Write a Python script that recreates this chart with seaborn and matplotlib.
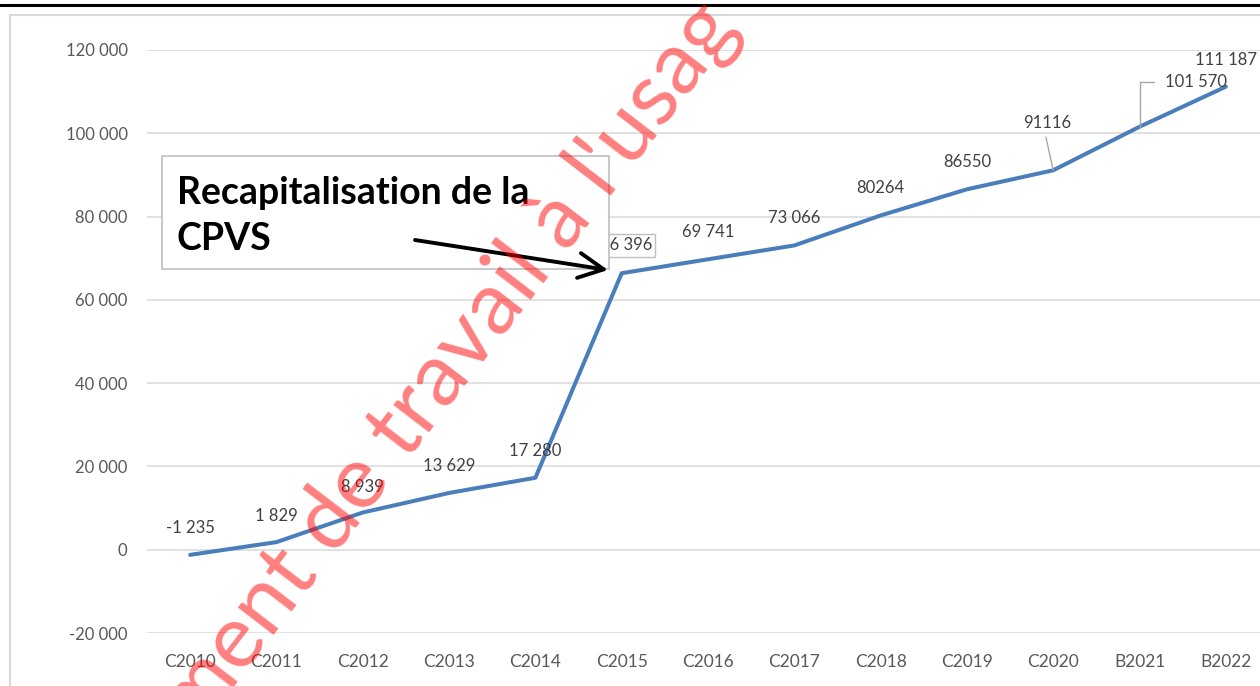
import numpy as np
import pandas as pd
import matplotlib
matplotlib.use('Agg')
import matplotlib.pyplot as plt
import matplotlib.patches as mpatches
import matplotlib.lines as mlines
import seaborn as sns

# ==========================================
# data
# ==========================================
categories = ['C2010', 'C2011', 'C2012', 'C2013', 'C2014', 'C2015', 'C2016',
              'C2017', 'C2018', 'C2019', 'C2020', 'B2021', 'B2022']
values = [-1235, 1829, 8939, 13629, 17280, 66396, 69741,
          73066, 80264, 86550, 91116, 101570, 111187]
value_labels = ['-1 235', '1 829', '8 939', '13 629', '17 280', '66 396', '69 741',
                '73 066', '80264', '86550', '91116', '101 570', '111 187']
y_ticks = [-20000, 0, 20000, 40000, 60000, 80000, 100000, 120000]
note_text = 'Recapitalisation de la\nCPVS'
watermark = "ment de travail à l'usag"

W, H = 1260, 686
LINE_COLOR = '#4A7EBB'
GRID_COLOR = '#D9D9D9'
TICK_COLOR = '#595959'
LABEL_COLOR = '#404040'

sns.set_style('white')
plt.rcParams['font.family'] = ['Lato', 'DejaVu Sans']

df = pd.DataFrame({'cat': categories, 'val': values})

fig = plt.figure(figsize=(W / 100, H / 100), dpi=100)


def px(x, y):
    # pixel -> figure fraction
    return x / W, 1 - y / H


ax = fig.add_axes([147 / W, 1 - 633 / H, (1269 - 147) / W, (633 - 50) / H])
sns.lineplot(data=df, x='cat', y='val', sort=False, color=LINE_COLOR,
             linewidth=2.9, ax=ax, zorder=3)

ax.set_xlim(-0.5, len(categories) - 0.5)
ax.set_ylim(y_ticks[0], y_ticks[-1])
ax.set_yticks(y_ticks)
ax.set_yticklabels([f'{v:,}'.replace(',', ' ') for v in y_ticks])
ax.set_xlabel('')
ax.set_ylabel('')
ax.grid(axis='y', color=GRID_COLOR, linewidth=1.1)
ax.grid(axis='x', visible=False)
for s in ax.spines.values():
    s.set_visible(False)
ax.tick_params(axis='y', length=0, pad=14, labelsize=12, labelcolor=TICK_COLOR)
ax.tick_params(axis='x', length=0, pad=15, labelsize=12.5, labelcolor=TICK_COLOR)

# data labels
offsets = {5: (3, 20), 10: (-4.5, 34), 11: (41, 32), 1: (0, 18.5), 2: (0, 18)}
for i, (v, lab) in enumerate(zip(values, value_labels)):
    dx, dy = offsets.get(i, (0, 19.5))
    kw = dict(textcoords='offset points', ha='center', va='center',
              fontsize=12, color=LABEL_COLOR, annotation_clip=False, zorder=4)
    if i == 5:
        kw['bbox'] = dict(boxstyle='square,pad=0.2', fc='white', ec='#BFBFBF', lw=1)
    if i == 10:
        kw['arrowprops'] = dict(arrowstyle='-', color='#A6A6A6', lw=1,
                                shrinkA=2, shrinkB=0, relpos=(0.45, 0))
    if i == 11:
        kw['arrowprops'] = dict(arrowstyle='-', color='#A6A6A6', lw=1,
                                connectionstyle='angle,angleA=0,angleB=90,rad=0',
                                shrinkA=6, shrinkB=0, relpos=(0, 0.5))
    ax.annotate(lab, xy=(i, v), xytext=(dx, dy), **kw)

# chart frame + top rule
fig.add_artist(mpatches.Rectangle(px(10, 700), (1300 - 10) / W, (700 - 15) / H,
                                  transform=fig.transFigure, fill=False,
                                  ec=GRID_COLOR, lw=1.5, zorder=-1))
fig.add_artist(mlines.Line2D([0, 1], [1 - 5 / H, 1 - 5 / H], transform=fig.transFigure,
                             color='black', lw=2.2, zorder=5))

# note box
x0, y0 = px(162, 269)
fig.add_artist(mpatches.Rectangle((x0, y0), (609 - 162) / W, (269 - 156) / H,
                                  transform=fig.transFigure, fc='white',
                                  ec='#BFBFBF', lw=1.2, zorder=6))
fig.text(*px(177, 176), note_text, ha='left', va='top', fontsize=27,
         fontweight='bold', color='black', linespacing=1.42, zorder=7)
fig.add_artist(mpatches.FancyArrowPatch(px(415, 240), px(608, 270),
                                        transform=fig.transFigure,
                                        arrowstyle='->,head_length=0.9,head_width=0.45',
                                        mutation_scale=20, color='black', lw=2.8,
                                        shrinkA=0, shrinkB=0, zorder=8))

# watermark
fig.text(*px(198, 735), watermark, rotation=52.5, rotation_mode='anchor',
         ha='left', va='baseline', fontsize=64, color='red', alpha=0.5, zorder=9)

fig.savefig('out.png', dpi=100)
